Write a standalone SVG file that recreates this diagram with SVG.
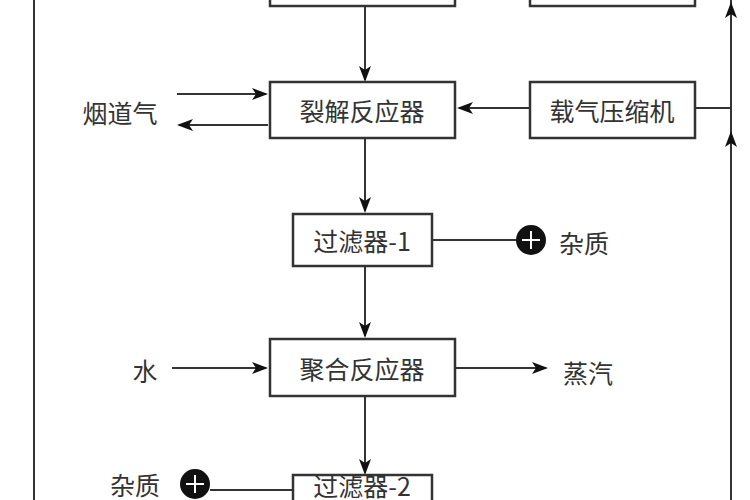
<svg xmlns="http://www.w3.org/2000/svg" width="750" height="500" viewBox="0 0 750 500">
<style>
.b{fill:#fff;stroke:#333;stroke-width:2.5}
.l{stroke:#333;stroke-width:2;fill:none}
.h{fill:#111}
.t{font-family:"Noto Sans CJK SC","Liberation Sans",sans-serif;font-size:25px;fill:#333;text-anchor:middle;dominant-baseline:central}
</style>
<g id="connectors">
<line class="l" x1="34" y1="0" x2="34" y2="500"/>
<line class="l" x1="731" y1="500" x2="731" y2="0"/>
<line class="l" x1="695" y1="108" x2="731" y2="108"/>
<line class="l" x1="365" y1="6" x2="365" y2="80"/>
<line class="l" x1="177" y1="94" x2="266" y2="94"/>
<line class="l" x1="268" y1="125" x2="179" y2="125"/>
<line class="l" x1="530" y1="108" x2="459" y2="108"/>
<line class="l" x1="365" y1="138" x2="365" y2="211"/>
<line class="l" x1="432" y1="240" x2="516" y2="240"/>
<line class="l" x1="365" y1="266" x2="365" y2="336"/>
<line class="l" x1="172" y1="368" x2="266" y2="368"/>
<line class="l" x1="455" y1="368" x2="546" y2="368"/>
<line class="l" x1="365" y1="396" x2="365" y2="473"/>
<line class="l" x1="293" y1="490" x2="210" y2="490"/>
<polygon class="h" points="365,82 359,66 365,70 371,66"/>
<polygon class="h" points="365,213 359,197 365,201 371,197"/>
<polygon class="h" points="365,338 359,322 365,326 371,322"/>
<polygon class="h" points="365,475 359,459 365,463 371,459"/>
<polygon class="h" points="268,94 252,88 256,94 252,100"/>
<polygon class="h" points="268,368 252,362 256,368 252,374"/>
<polygon class="h" points="548,368 532,362 536,368 532,374"/>
<polygon class="h" points="177,125 193,119 189,125 193,131"/>
<polygon class="h" points="457,108 473,102 469,108 473,114"/>
<polygon class="h" points="731,131 725,147 731,143 737,147"/>
<polygon class="h" points="731,2 725,18 731,14 737,18"/>
</g>
<g id="top-left"><rect class="b" x="270" y="-20" width="185" height="26"/></g>
<g id="top-right"><rect class="b" x="530" y="-20" width="165" height="26"/></g>
<g id="cracking"><rect class="b" x="270" y="82" width="185" height="56"/><text class="t" x="362" y="110">裂解反应器</text></g>
<g id="flue"><text class="t" x="120" y="112">烟道气</text></g>
<g id="compressor"><rect class="b" x="530" y="82" width="165" height="56"/><text class="t" x="612" y="110">载气压缩机</text></g>
<g id="filter1"><rect class="b" x="293" y="214" width="139" height="52"/><text class="t" x="362" y="240">过滤器-1</text></g>
<g id="imp1"><circle cx="531" cy="240" r="15" fill="#111"/><path d="M522,240 H540 M531,231 V249" stroke="#fff" stroke-width="2"/><text class="t" x="584" y="242">杂质</text></g>
<g id="poly"><rect class="b" x="270" y="339" width="185" height="57"/><text class="t" x="362" y="368">聚合反应器</text></g>
<g id="water"><text class="t" x="145" y="370">水</text></g>
<g id="steam"><text class="t" x="588" y="372">蒸汽</text></g>
<g id="filter2"><rect class="b" x="293" y="475" width="139" height="40"/><text class="t" x="362" y="485">过滤器-2</text></g>
<g id="imp2"><circle cx="195" cy="484" r="15" fill="#111"/><path d="M186,484 H204 M195,475 V493" stroke="#fff" stroke-width="2"/><text class="t" x="135" y="484">杂质</text></g>
</svg>
